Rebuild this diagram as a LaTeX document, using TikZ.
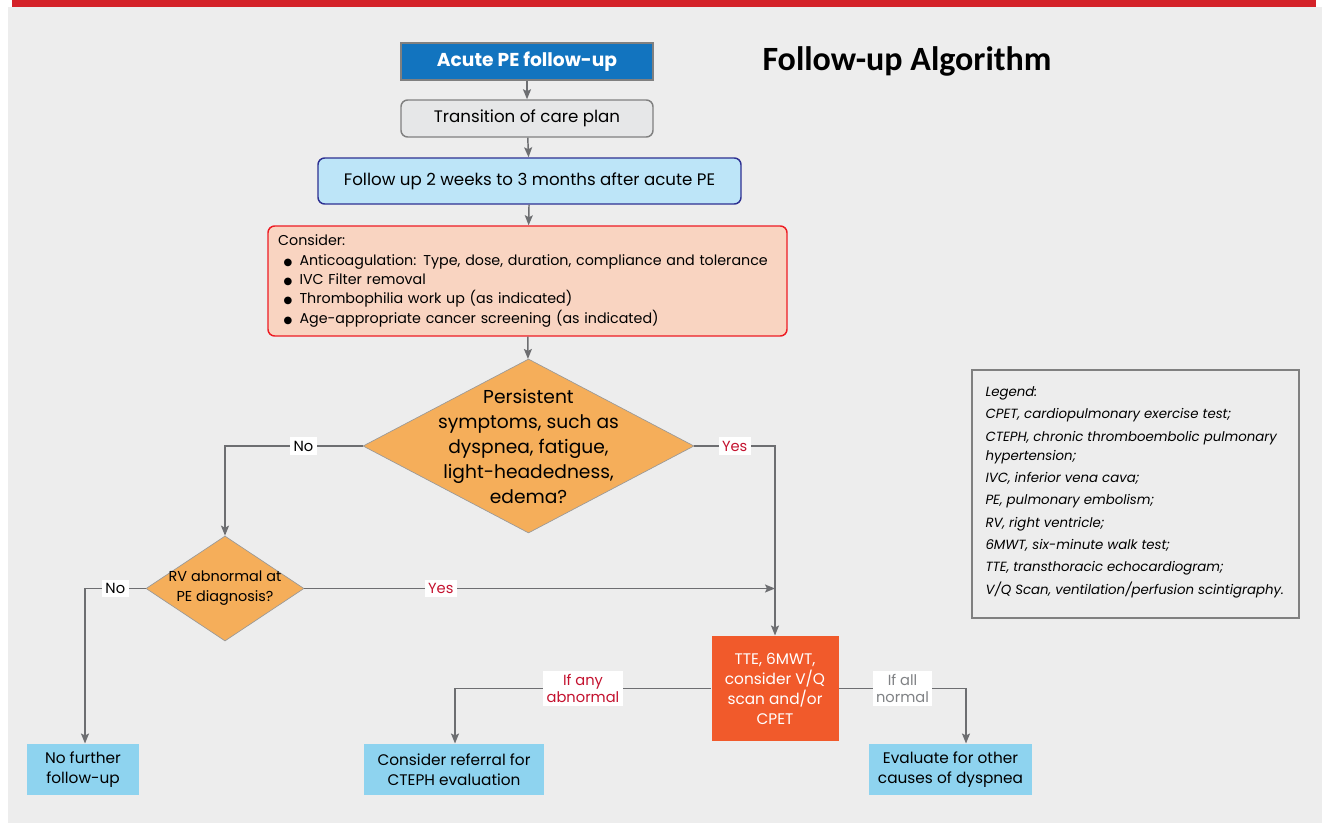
\documentclass[tikz,border=0pt]{standalone}
\usepackage{fontspec}
\setmainfont{Poppins}
\newfontfamily\titlefont{Carlito}
\newfontfamily\symfont{DejaVu Sans}
\usetikzlibrary{shapes.geometric,arrows.meta}

\definecolor{panelgray}{RGB}{237,237,237}
\definecolor{barred}{RGB}{212,34,41}
\definecolor{acuteblue}{RGB}{18,116,191}
\definecolor{transgray}{RGB}{230,231,232}
\definecolor{fupblue}{RGB}{189,229,248}
\definecolor{fupborder}{RGB}{46,49,146}
\definecolor{considerfill}{RGB}{249,212,193}
\definecolor{considerborder}{RGB}{237,28,36}
\definecolor{decisionfill}{RGB}{245,174,90}
\definecolor{ttefill}{RGB}{241,90,43}
\definecolor{endblue}{RGB}{142,211,239}
\definecolor{linegray}{RGB}{109,110,113}
\definecolor{labelred}{RGB}{196,18,47}
\definecolor{labelgray}{RGB}{128,130,133}

\newcommand{\bulletitem}{\hspace*{4pt}\makebox[12pt][l]{{\symfont\fontsize{7.5}{1}\selectfont ●}}}

\tikzset{every picture/.style={line width=0.75pt}}
\tikzset{
  flowline/.style={draw=linegray, line width=1.1pt},
  flowarrow/.style={flowline, -{Stealth[length=7.5pt,width=6pt,inset=1.5pt]}},
  topbox/.style={draw=gray, line width=1.1pt, minimum width=189pt, minimum height=27.75pt, inner sep=0pt},
  endbox/.style={fill=endblue, align=center, inner sep=0pt, minimum height=38.25pt,
    font=\fontsize{11.5}{15}\selectfont},
  decision/.style={diamond, draw=gray!80, line width=0.5pt, fill=decisionfill, inner sep=0pt, aspect=1.9},
  lbl/.style={fill=white, inner sep=2.5pt, align=center, font=\fontsize{11}{13}\selectfont},
}

\begin{document}
\begin{tikzpicture}[x=0.75pt,y=0.75pt,yscale=-1,xscale=1]
\useasboundingbox (0,0) rectangle (1325,828);
\fill[white] (0,0) rectangle (1325,828);

%Background panel and top bar
\fill[panelgray] (8,7) rectangle (1322,823);
\fill[barred] (12,0) rectangle (1316,7);

% Title
\node (title) at (907,61) {\titlefont\bfseries\fontsize{25.5}{28}\selectfont Follow-up Algorithm};

%Boxes of the main column
\node[topbox, fill=acuteblue, text=white, font=\bfseries\fontsize{14}{16}\selectfont] (acute) at (527,61.5) {Acute PE follow-up};
\node[topbox, fill=transgray, rounded corners=5pt, font=\fontsize{12.5}{15}\selectfont] (trans) at (527,118.5) {Transition of care plan};
\node[draw=fupborder, line width=1.1pt, fill=fupblue, rounded corners=5pt, minimum width=317.25pt, minimum height=34.5pt,
  inner sep=0pt, font=\fontsize{12.5}{15}\selectfont] (fup) at (529.5,181) {Follow up 2 weeks to 3 months after acute PE};
\node[draw=considerborder, line width=1.1pt, fill=considerfill, rounded corners=5pt, minimum width=389.25pt, minimum height=82.5pt,
  inner sep=0pt, text width=374pt, align=left, font=\fontsize{10.7}{14.6}\selectfont] (consider) at (527.5,281)
  {Consider:\\
   \bulletitem Anticoagulation: Type, dose, duration, compliance and tolerance\\
   \bulletitem IVC Filter removal\\
   \bulletitem Thrombophilia work up (as indicated)\\
   \bulletitem Age-appropriate cancer screening (as indicated)};

%Decisions
\node[decision, minimum width=248.25pt, minimum height=130.5pt] (symp) at (528.5,446) {};
\node[align=center, font=\fontsize{14}{18.75}\selectfont] (symptext) at (symp) {Persistent\\symptoms, such as\\dyspnea, fatigue,\\light-headedness,\\edema?};
\node[decision, minimum width=118.5pt, minimum height=78.75pt] (rv) at (225,588.5) {};
\node[align=center, font=\fontsize{10.8}{15}\selectfont] (rvtext) at (rv) {RV abnormal at\\PE diagnosis?};

%Tests
\node[fill=ttefill, text=white, align=center, minimum width=95.25pt, minimum height=78.75pt, inner sep=0pt,
  font=\fontsize{11.5}{15}\selectfont] (tte) at (775,688.5) {TTE, 6MWT,\\consider V/Q\\scan and/or\\CPET};

%End boxes
\node[endbox, minimum width=84pt] (nofur) at (83,769.5) {No further\\follow-up};
\node[endbox, minimum width=135pt] (refer) at (454,769.5) {Consider referral for\\CTEPH evaluation};
\node[endbox, minimum width=122.25pt] (evalo) at (950.5,769.5) {Evaluate for other\\causes of dyspnea};

%Legend
\node[draw=gray, line width=1pt, minimum width=245.25pt, minimum height=186pt, inner sep=0pt] (legend) at (1135.5,494) {};
\node[anchor=north west, inner sep=0pt, align=left, font=\itshape\fontsize{10}{14.25}\selectfont] (legendtext) at (985,386)
  {Legend:\\[2.5pt]
   CPET, cardiopulmonary exercise test;\\[2.5pt]
   CTEPH, chronic thromboembolic pulmonary\\
   hypertension;\\[2.5pt]
   IVC, inferior vena cava;\\[2.5pt]
   PE, pulmonary embolism;\\[2.5pt]
   RV, right ventricle;\\[2.5pt]
   6MWT, six-minute walk test;\\[2.5pt]
   TTE, transthoracic echocardiogram;\\[2.5pt]
   V/Q Scan, ventilation/perfusion scintigraphy.};

%Corners of the connectors
\coordinate (sympno) at (225,446);
\coordinate (sympyes) at (775,446);
\coordinate (rvno) at (85,588.5);
\coordinate (abncorner) at (455,688.5);
\coordinate (normcorner) at (966,688.5);

%Connectors
\draw[flowarrow] (acute) -- (trans);
\draw[flowarrow] (trans) -- (fup);
\draw[flowarrow] (fup) -- (consider);
\draw[flowarrow] (consider) -- (symp);
\draw[flowarrow] (symp.west) -- node[lbl, pos=0.43] {No} (sympno) -- (rv.north);
\draw[flowarrow] (symp.east) -- node[lbl, pos=0.5, text=labelred] {Yes} (sympyes) -- (tte.north);
\draw[flowarrow] (rv.east) -- node[lbl, pos=0.29, text=labelred] {Yes} (rv.east -| sympyes);
\draw[flowarrow] (rv.west) -- node[lbl, pos=0.5] {No} (rvno) -- (rvno |- nofur.north);
\draw[flowarrow] (tte.west) -- node[lbl, text=labelred] {If any\\abnormal} (abncorner) -- (abncorner |- refer.north);
\draw[flowarrow] (tte.east) -- node[lbl, text=labelgray] {If all\\normal} (normcorner) -- (normcorner |- evalo.north);

\end{tikzpicture}
\end{document}
